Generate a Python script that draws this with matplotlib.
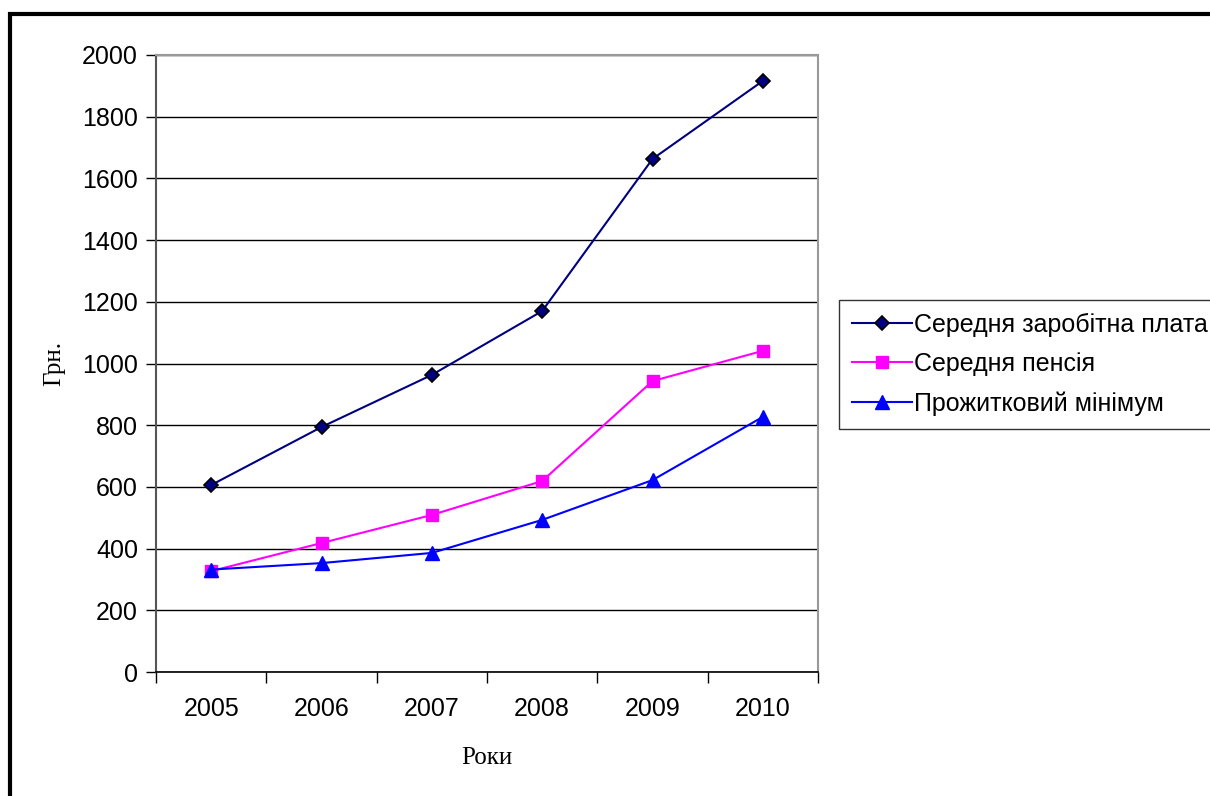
# Wages, pensions and subsistence minimum in Ukraine, 2005-2010
import matplotlib.pyplot as plt
from matplotlib.patches import Rectangle
from matplotlib.ticker import MultipleLocator

years = ["2005", "2006", "2007", "2008", "2009", "2010"]
avg_wage = [606, 794, 963, 1170, 1663, 1916]
avg_pension = [327, 418, 509, 619, 943, 1041]
subsistence_min = [332, 353, 386, 493, 622, 827]

sans = ["Liberation Sans", "DejaVu Sans"]
serif = ["Liberation Serif", "DejaVu Serif"]

fig = plt.figure(figsize=(12.1, 7.96), dpi=100)
ax = fig.add_axes([156 / 1210, 1 - 672 / 796, 662 / 1210, 617 / 796])

x = list(range(len(years)))
ax.plot(x, avg_wage, color="#000080", lw=1.5, marker="D", ms=7.5,
        mfc="#000080", mec="black", mew=1.2, label="Середня заробітна плата")
ax.plot(x, avg_pension, color="#FF00FF", lw=1.5, marker="s", ms=9,
        mfc="#FF00FF", mec="#FF00FF", label="Середня пенсія")
ax.plot(x, subsistence_min, color="#0000FF", lw=1.5, marker="^", ms=10,
        mfc="#0000FF", mec="#0000FF", label="Прожитковий мінімум")

ax.set_xlim(-0.5, len(years) - 0.5)
ax.set_ylim(0, 2000)
ax.yaxis.set_major_locator(MultipleLocator(200))
ax.grid(axis="y", color="black", lw=1)
ax.set_axisbelow(True)

# category boundaries get the tick marks, centres get the labels
ax.set_xticks([i - 0.5 for i in range(len(years) + 1)])
ax.set_xticklabels([])
ax.set_xticks(x, minor=True)
ax.set_xticklabels(years, minor=True)
ax.tick_params(axis="x", which="major", length=8, width=1, color="black")
ax.tick_params(axis="x", which="minor", length=0, pad=18, labelsize=18)
ax.tick_params(axis="y", length=7, width=1, pad=6, labelsize=18)
for lbl in ax.get_xticklabels(minor=True) + ax.get_yticklabels():
    lbl.set_family(sans)

for side in ("top", "right", "left"):
    ax.spines[side].set_color("#999999")
    ax.spines[side].set_linewidth(1.5)
ax.spines["left"].set_color("#555555")
ax.spines["bottom"].set_color("black")
ax.spines["bottom"].set_linewidth(1.2)

ax.set_ylabel("Грн.", family=serif, fontsize=18, labelpad=12)
ax.set_xlabel("Роки", family=serif, fontsize=18, labelpad=19)

leg = fig.legend(loc="upper left", bbox_to_anchor=(839 / 1210, 1 - 300 / 796),
                 frameon=True, fancybox=False, edgecolor="black",
                 prop={"family": sans, "size": 18}, handlelength=2.4,
                 handletextpad=0.1, borderpad=0.5, labelspacing=0.62,
                 borderaxespad=0)
leg.get_frame().set_linewidth(1)

# outer chart frame
fig.patches.append(Rectangle((10 / 1210, -0.1), 1.2, 1 - 14 / 796 + 0.1,
                             transform=fig.transFigure, fill=False,
                             edgecolor="black", lw=3))

fig.savefig("out.png", dpi=100)
